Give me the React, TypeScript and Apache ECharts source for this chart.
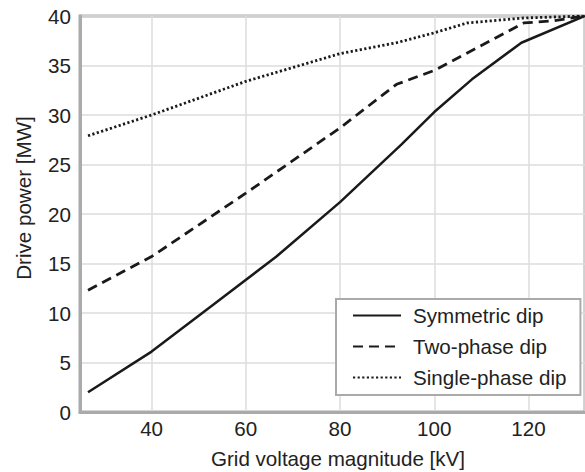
import React, { useEffect, useRef } from "react";
import * as echarts from "echarts";

const seriesNames = ["Symmetric dip", "Two-phase dip", "Single-phase dip"];

const symmetricDip: [number, number][] = [
  [26.5, 2.0], [40, 6.1], [53, 10.8], [66.5, 15.7], [80, 21.2], [93, 27.0],
  [100, 30.3], [108, 33.6], [118.5, 37.3], [132, 40.0],
];
const twoPhaseDip: [number, number][] = [
  [26.5, 12.3], [40, 15.7], [60, 22.1], [80, 28.7], [92, 33.1], [100, 34.5],
  [119, 39.3], [125, 39.5], [132, 40.0],
];
const singlePhaseDip: [number, number][] = [
  [26.5, 27.9], [40, 30.0], [60, 33.4], [80, 36.2], [92, 37.3], [100, 38.3],
  [107, 39.3], [119, 39.8], [132, 40.0],
];

const xTickValues = [40, 60, 80, 100, 120];

const FONT = "'Liberation Sans', Arial, sans-serif";
const TXT = "#222";
const FS = 20.6;

export default function App() {
  const ref = useRef<HTMLDivElement>(null);
  useEffect(() => {
    if (!ref.current) return;
    const chart = echarts.init(ref.current, undefined, { renderer: "svg" });
    const lineBase = { type: "line", symbol: "none", smooth: false, silent: true };
    chart.setOption({
      animation: false,
      backgroundColor: "#fff",
      textStyle: { fontFamily: FONT, color: TXT },
      grid: {
        left: 80, top: 16, right: -3, bottom: 60,
        show: true, borderColor: "#aaa", borderWidth: 3,
      },
      xAxis: {
        type: "value", min: 24.8, max: 132,
        axisLine: { show: true, lineStyle: { color: "#aaa", width: 3 } },
        axisTick: { show: false },
        splitLine: { show: true, lineStyle: { color: "#ddd", width: 1.5 } },
        axisLabel: {
          color: TXT, fontSize: FS, fontFamily: FONT, margin: 6,
          showMinLabel: false, showMaxLabel: false,
          formatter: (v: number) => (xTickValues.includes(v) ? String(v) : ""),
        },
      },
      yAxis: {
        type: "value", min: 0, max: 40, interval: 5,
        axisLine: { show: true, lineStyle: { color: "#aaa", width: 3 } },
        axisTick: { show: false },
        splitLine: { show: true, lineStyle: { color: "#ddd", width: 1.5 } },
        axisLabel: { color: TXT, fontSize: FS, fontFamily: FONT, margin: 9 },
      },
      legend: {
        orient: "vertical",
        left: 336, top: 299,
        backgroundColor: "#fff",
        borderColor: "#aaa", borderWidth: 2,
        padding: [6, 14, 7, 16],
        itemWidth: 48, itemHeight: 14, itemGap: 10,
        itemStyle: { color: "transparent", borderColor: "transparent", borderWidth: 0, opacity: 0 },
        textStyle: { color: TXT, fontSize: FS, fontFamily: FONT, padding: [0, 0, 0, 7] },
        data: seriesNames,
      },
      graphic: [
        {
          type: "text", x: 23, y: 198, rotation: Math.PI / 2,
          style: {
            text: "Drive power [MW]", fill: TXT, fontSize: FS, fontFamily: FONT,
            align: "center", verticalAlign: "middle",
          },
        },
        {
          type: "text", x: 338, y: 458,
          style: {
            text: "Grid voltage magnitude [kV]", fill: TXT, fontSize: FS, fontFamily: FONT,
            align: "center", verticalAlign: "middle",
          },
        },
      ],
      series: [
        {
          ...lineBase, name: seriesNames[0], data: symmetricDip,
          lineStyle: { color: "#1a1a1a", width: 2.5, type: "solid" },
          itemStyle: { color: "#1a1a1a" },
        },
        {
          ...lineBase, name: seriesNames[1], data: twoPhaseDip,
          lineStyle: { color: "#1a1a1a", width: 2.8, type: [10, 6] },
          itemStyle: { color: "#1a1a1a" },
        },
        {
          ...lineBase, name: seriesNames[2], data: singlePhaseDip,
          lineStyle: { color: "#1a1a1a", width: 2.8, type: [2.2, 2.4] },
          itemStyle: { color: "#1a1a1a" },
        },
      ],
    });
    return () => chart.dispose();
  }, []);
  return <div ref={ref} style={{ width: 585, height: 472, position: "absolute", left: 0, top: 0 }} />;
}
